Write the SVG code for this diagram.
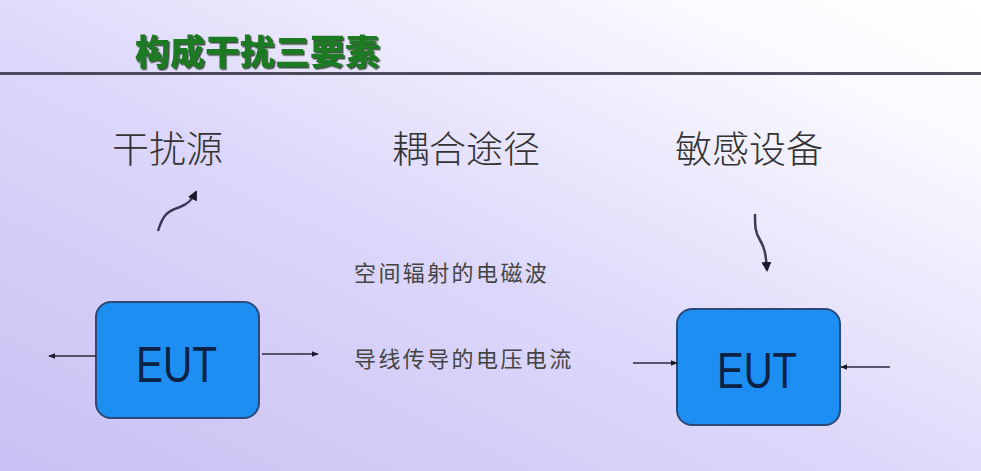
<svg xmlns="http://www.w3.org/2000/svg" width="981" height="471" viewBox="0 0 981 471">
  <defs>
    <linearGradient id="bg" x1="0" y1="1" x2="1" y2="0">
      <stop offset="0" stop-color="#c9c1f3"/>
      <stop offset="0.45" stop-color="#dcd7fa"/>
      <stop offset="0.85" stop-color="#fbfaff"/>
      <stop offset="1" stop-color="#ffffff"/>
    </linearGradient>
    <marker id="ah" viewBox="0 0 10 10" refX="9" refY="5" markerWidth="7" markerHeight="7" orient="auto" markerUnits="userSpaceOnUse">
      <path d="M0,1 L10,5 L0,9 Z" fill="#1a1a2a"/>
    </marker>
    <marker id="ahb" viewBox="0 0 10 10" refX="8" refY="5" markerWidth="10" markerHeight="10" orient="auto" markerUnits="userSpaceOnUse">
      <path d="M0,0 L10,5 L0,10 Z" fill="#1a1a2a"/>
    </marker>
    <filter id="sh" x="-5%" y="-5%" width="115%" height="130%">
      <feDropShadow dx="1.5" dy="1.5" stdDeviation="0.6" flood-color="#1b2a1b" flood-opacity="0.8"/>
    </filter>
  </defs>
  <style>
    .title { font-family: "Noto Sans CJK SC", sans-serif; font-weight: 900; font-size: 35px; fill: #1f7a22; }
    .head { font-family: "Noto Sans CJK SC", sans-serif; font-weight: 300; font-size: 37px; fill: #333; }
    .small { font-family: "Noto Sans CJK SC", sans-serif; font-weight: 400; font-size: 22px; fill: #444; letter-spacing: 2.4px; }
    .box { fill: #1d8ef2; stroke: #2a4a78; stroke-width: 2; }
    .eut { font-family: "Liberation Sans", Arial, sans-serif; font-size: 50px; fill: #0c2244; }
    .conn { stroke: #2a2a3a; stroke-width: 1.5; fill: none; }
    .squig { stroke: #3a3a55; stroke-width: 2.5; fill: none; }
  </style>
  <rect x="0" y="0" width="981" height="471" fill="url(#bg)"/>
  <g id="title">
    <text class="title" x="135" y="65" filter="url(#sh)">构成干扰三要素</text>
    <line x1="0" y1="73.5" x2="981" y2="73.5" stroke="#4a4a5a" stroke-width="3"/>
  </g>
  <g id="label-source"><text class="head" x="112" y="163">干扰源</text></g>
  <g id="label-path"><text class="head" x="392" y="163">耦合途径</text></g>
  <g id="label-victim"><text class="head" x="675" y="163">敏感设备</text></g>
  <g id="label-radiation"><text class="small" x="354" y="281">空间辐射的电磁波</text></g>
  <g id="label-conduction"><text class="small" x="354" y="367">导线传导的电压电流</text></g>
  <g id="eut-source">
    <rect class="box" x="96" y="302" width="163" height="116" rx="15"/>
    <text class="eut" x="136" y="382" textLength="81" lengthAdjust="spacingAndGlyphs">EUT</text>
  </g>
  <g id="eut-victim">
    <rect class="box" x="677" y="309" width="163" height="116" rx="15"/>
    <text class="eut" x="717" y="388" textLength="80" lengthAdjust="spacingAndGlyphs">EUT</text>
  </g>
  <g id="connectors">
    <line class="conn" x1="96" y1="356" x2="49" y2="356" marker-end="url(#ah)"/>
    <line class="conn" x1="262" y1="354" x2="318" y2="354" marker-end="url(#ah)"/>
    <line class="conn" x1="633" y1="363" x2="677" y2="363" marker-end="url(#ah)"/>
    <line class="conn" x1="890" y1="367" x2="841" y2="367" marker-end="url(#ah)"/>
    <path class="squig" d="M158,231 C163,214 168,211 180,207 C188,204 192,200 196,192" marker-end="url(#ahb)"/>
    <path class="squig" d="M755,214 C755,226 755,232 760,240 C765,248 766,256 767,270" marker-end="url(#ahb)"/>
  </g>
</svg>
